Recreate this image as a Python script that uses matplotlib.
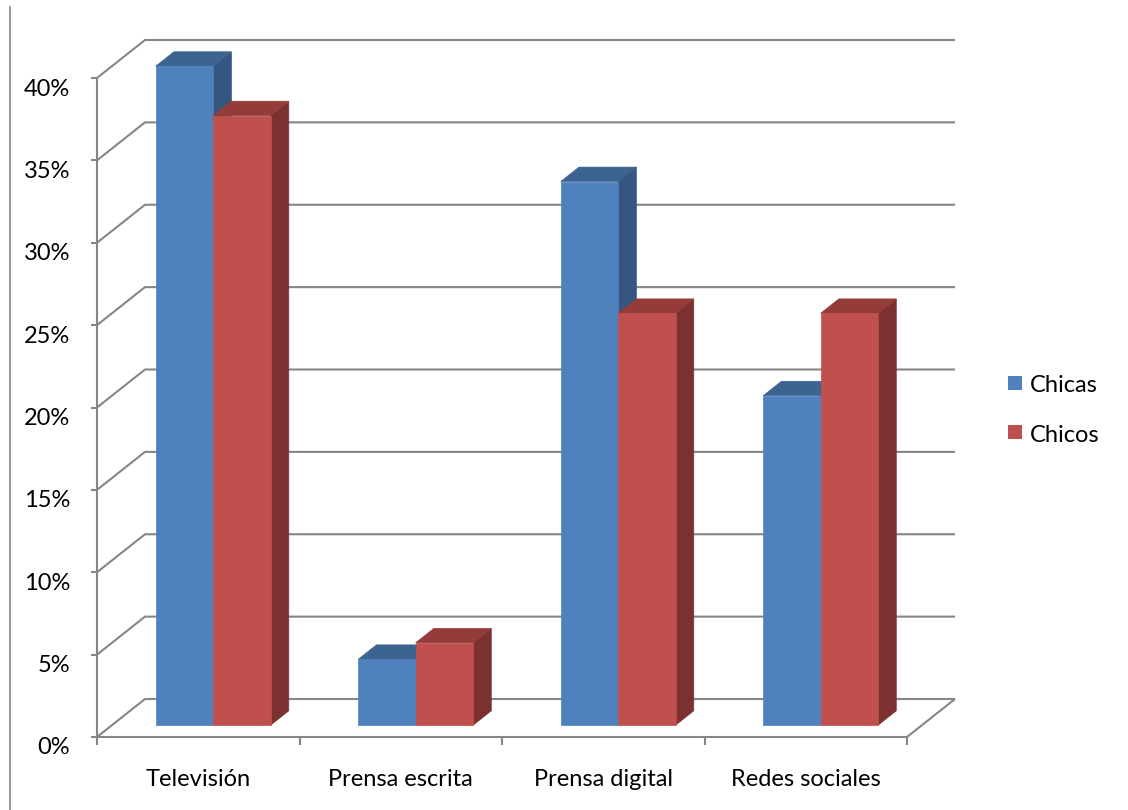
import numpy as np
import matplotlib
matplotlib.use("Agg")
import matplotlib.pyplot as plt
from matplotlib.patches import Polygon, Rectangle
from matplotlib.lines import Line2D
from matplotlib.transforms import IdentityTransform

# Data
categories = ["Televisión", "Prensa escrita", "Prensa digital", "Redes sociales"]
series_names = ["Chicas", "Chicos"]
chicas = [40, 4, 33, 20]
chicos = [37, 5, 25, 25]
y_ticks = [0, 5, 10, 15, 20, 25, 30, 35, 40]
y_tick_labels = [f"{t}%" for t in y_ticks]

# Colours for front / top / side faces of each series
face_colors = {
    "Chicas": ("#4F81BD", "#3D6391", "#345681"),
    "Chicos": ("#C0504D", "#943C3A", "#7B3130"),
}
grid_color = "#868686"

plt.rcParams["font.family"] = ["Lato", "DejaVu Sans"]
FS = 17

W, H = 1128, 810
fig = plt.figure(figsize=(W / 100, H / 100), dpi=100)
ax = fig.add_axes([97 / W, 73 / H, 810 / W, 659 / H])
ax.set_xlim(0, len(categories))
ax.set_ylim(0, 40)
ax.axis("off")

# Oblique depth direction of the 3D box, in display pixels
DEPTH = np.array([48.0, 38.0])
ident = IdentityTransform()


def P(x, v, d):
    """Project a point (category position, value, depth fraction) to pixels."""
    return ax.transData.transform((x, v)) + d * DEPTH


def line(pts, **kw):
    pts = np.array(pts)
    fig.add_artist(Line2D(pts[:, 0], pts[:, 1], transform=ident,
                          color=grid_color, lw=1.5, solid_capstyle="butt",
                          zorder=1, **kw))


ncat = len(categories)

# Side wall diagonals and back wall gridlines
for v, lab in zip(y_ticks, y_tick_labels):
    line([P(0, v, 0), P(0, v, 1), P(ncat, v, 1)])
    a = P(0, v, 0)
    line([a, a - np.array([6, 0])])
    fig.text(a[0] - 27, a[1] - 11, lab, transform=ident,
             ha="right", va="center", fontsize=FS)

# Value axis and floor
line([P(0, 0, 0), P(0, 40, 0)])
line([P(0, 0, 0), P(ncat, 0, 0), P(ncat, 0, 1)])
for i in range(ncat + 1):
    a = P(i, 0, 0)
    line([a, a - np.array([0, 8])])
for i, name in enumerate(categories):
    a = P(i + 0.5, 0, 0)
    fig.text(a[0], a[1] - 42, name, transform=ident,
             ha="center", va="center", fontsize=FS)

# 3D bars
group_w = 0.567
bar_w = group_w / 2
d0, d1 = 0.31, 0.69
for i in range(ncat):
    for j, (name, vals) in enumerate(zip(series_names, [chicas, chicos])):
        v = vals[i]
        x0 = i + 0.5 - group_w / 2 + j * bar_w
        x1 = x0 + bar_w
        front, top, side = face_colors[name]
        faces = [
            ([P(x1, 0, d0), P(x1, 0, d1), P(x1, v, d1), P(x1, v, d0)], side),
            ([P(x0, v, d0), P(x1, v, d0), P(x1, v, d1), P(x0, v, d1)], top),
            ([P(x0, 0, d0), P(x1, 0, d0), P(x1, v, d0), P(x0, v, d0)], front),
        ]
        for pts, col in faces:
            fig.add_artist(Polygon(pts, closed=True, transform=ident,
                                   facecolor=col, edgecolor=col, lw=0.5,
                                   zorder=3))

# Legend
for k, name in enumerate(series_names):
    yc = H - (383 + 49 * k)
    fig.add_artist(Rectangle((1008, yc - 7), 14, 14, transform=ident,
                             facecolor=face_colors[name][0], edgecolor="none",
                             zorder=3))
    fig.text(1030, yc - 3, name, transform=ident, ha="left", va="center",
             fontsize=FS)

# Left border line
fig.add_artist(Line2D([10, 10], [0, H - 7], transform=ident,
                      color=grid_color, lw=1.2))

fig.savefig("out.png", dpi=100)
